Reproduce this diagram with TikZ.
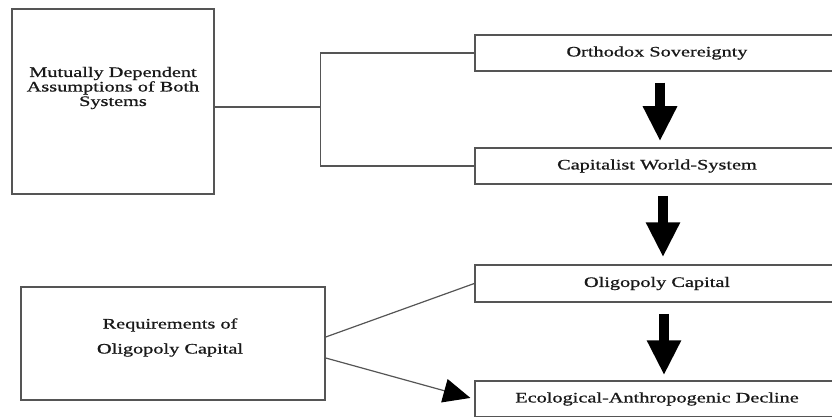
\documentclass[tikz,border=0pt]{standalone}
\usepackage{fontspec}
\setmainfont{Liberation Serif}
\newfontfamily\heavyserif[FakeBold=0.7]{Liberation Serif}
\usepackage{graphicx}
\usepackage{xcolor}
\usetikzlibrary{arrows.meta, calc}
\definecolor{edge}{HTML}{555555}
\newcommand{\wide}[1]{\scalebox{1.4}[1]{#1}}
\tikzset{
  box/.style={draw=edge, line width=1.5pt, rectangle, inner sep=0pt,
    font=\heavyserif\fontsize{14.5}{14.5}\selectfont, text=black!90},
  lbl/.style={font=\heavyserif\fontsize{14.5}{14.5}\selectfont, text=black!90, align=center},
  link/.style={draw=edge, line width=1.2pt},
  bigarrow/.style={line width=10pt, -{Triangle[width=32pt,length=35pt]}}
}

\begin{document}
\begin{tikzpicture}[x=1pt,y=-1pt]
        \useasboundingbox (0,0) rectangle (832,417);
        \clip (0,0) rectangle (832,417);
        % left side
        \node[box, minimum width=202pt, minimum height=185pt] (mutual) at (113,101.5) {};
        \node[lbl] (mutualtext) at (113,88) {\wide{Mutually Dependent}\\\wide{Assumptions of Both}\\\wide{Systems}};
        \node[box, minimum width=304pt, minimum height=113pt] (req) at (173,343.5) {};
        \node[lbl] (reqtext) at (170,337.5) {\wide{Requirements of}\\[10.5pt]\wide{Oligopoly Capital}};
        % right column
        \node[box, minimum width=364pt, minimum height=36pt] (ortho) at (657,53) {\wide{Orthodox Sovereignty}};
        \node[box, minimum width=364pt, minimum height=36pt] (capital) at (657,166) {\wide{Capitalist World-System}};
        \node[box, minimum width=364pt, minimum height=37pt] (oligo) at (657,283.5) {\wide{Oligopoly Capital}};
        \node[box, minimum width=364pt, minimum height=36pt] (ecol) at (657,399) {\wide{Ecological-Anthropogenic Decline}};
        % connectors
        \draw[link] ([yshift=-5.5pt]mutual.east) -- ++(106,0) coordinate (fork);
        \draw[link] (ortho.west) -| (fork) |- (capital.west);
        \draw[link] ([yshift=6.5pt]req.east) -- (oligo.west);
        \draw[link, -{Triangle[width=24pt,length=27pt,color=black]}, shorten >=4pt] ([yshift=-14.5pt]req.east) -- (ecol.west);
        \draw[bigarrow, shorten <=11pt, shorten >=6pt] ([xshift=3pt]ortho.south) -- ([xshift=3pt]capital.north);
        \draw[bigarrow, shorten <=11pt, shorten >=7pt] ([xshift=6pt]capital.south) -- ([xshift=6pt]oligo.north);
        \draw[bigarrow, shorten <=11pt, shorten >=5pt] ([xshift=7pt]oligo.south) -- ([xshift=7pt]ecol.north);
\end{tikzpicture}
\end{document}
